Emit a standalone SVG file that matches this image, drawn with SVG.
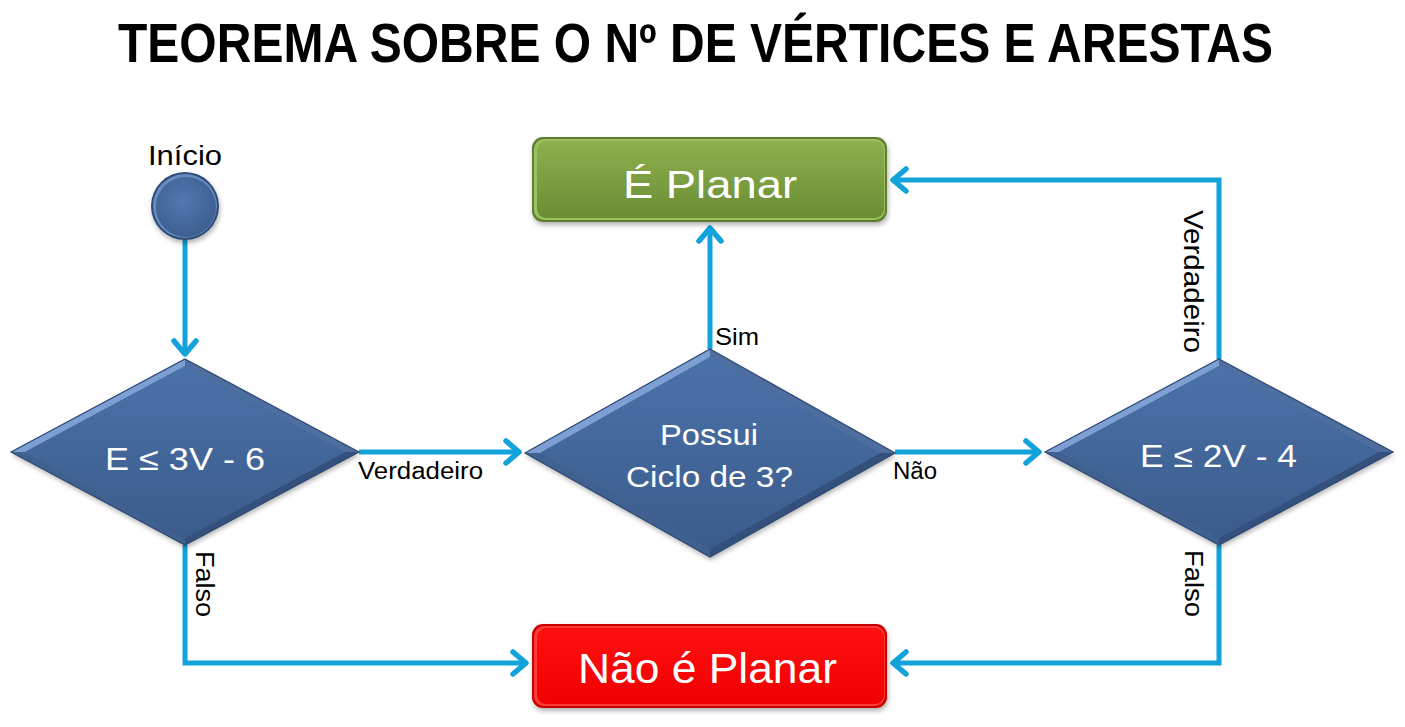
<svg xmlns="http://www.w3.org/2000/svg" width="1405" height="727" viewBox="0 0 1405 727">
<defs>
<style>
.t{font-family:"Liberation Sans",Arial,sans-serif;}
.lbl{font-family:"Liberation Sans",Arial,sans-serif;fill:#000;}
.wt{font-family:"Liberation Sans",Arial,sans-serif;fill:#fff;}
.conn{fill:none;stroke:#12a3da;stroke-width:5;stroke-linejoin:miter;}
.btl{fill:#7d9fd3;}
.btr{fill:#4d6e9f;}
.bbr{fill:#34507c;}
.bbl{fill:#40608f;}
.dedge{fill:none;stroke:#2f4a74;stroke-width:1.2;}
</style>
<linearGradient id="gd" x1="0" y1="0" x2="0" y2="1">
<stop offset="0" stop-color="#4b72a9"/>
<stop offset="1" stop-color="#3b5b8b"/>
</linearGradient>
<linearGradient id="gg" x1="0" y1="0" x2="0" y2="1">
<stop offset="0" stop-color="#8db04e"/>
<stop offset="1" stop-color="#6a8d34"/>
</linearGradient>
<linearGradient id="gr" x1="0" y1="0" x2="0" y2="1">
<stop offset="0" stop-color="#ff1010"/>
<stop offset="1" stop-color="#f00000"/>
</linearGradient>
<radialGradient id="gc" cx="0.45" cy="0.4" r="0.6">
<stop offset="0" stop-color="#5279b1"/>
<stop offset="1" stop-color="#3d5e90"/>
</radialGradient>
<filter id="sh" x="-10%" y="-10%" width="120%" height="130%">
<feDropShadow dx="1" dy="3" stdDeviation="2.5" flood-color="#000" flood-opacity="0.3"/>
</filter>
<marker id="ar" markerUnits="userSpaceOnUse" markerWidth="30" markerHeight="30" viewBox="-20 -15 30 30" refX="0" refY="0" orient="auto">
<path d="M -13 -11 L 0 0 L -13 11" fill="none" stroke="#12a3da" stroke-width="5.5" stroke-linecap="round" stroke-linejoin="round"/>
</marker>
</defs>
<rect width="1405" height="727" fill="#fff"/>

<text class="t" x="118" y="62" font-size="55" font-weight="bold" textLength="1155" lengthAdjust="spacingAndGlyphs" fill="#000">TEOREMA SOBRE O Nº DE VÉRTICES E ARESTAS</text>

<g id="connectors">
<path class="conn" d="M185 240 L185 354" marker-end="url(#ar)"/>
<path class="conn" d="M359 452 L519 452" marker-end="url(#ar)"/>
<path class="conn" d="M895 452 L1039 452" marker-end="url(#ar)"/>
<path class="conn" d="M710 349 L710 228" marker-end="url(#ar)"/>
<path class="conn" d="M1219 359 L1219 180 L893 180" marker-end="url(#ar)"/>
<path class="conn" d="M185 545 L185 663 L526 663" marker-end="url(#ar)"/>
<path class="conn" d="M1219 545 L1219 663 L893 663" marker-end="url(#ar)"/>
<text class="lbl" x="358" y="479" font-size="23" textLength="125" lengthAdjust="spacingAndGlyphs">Verdadeiro</text>
<text class="lbl" x="893" y="479" font-size="23" textLength="44" lengthAdjust="spacingAndGlyphs">Não</text>
<text class="lbl" x="715" y="345" font-size="24" textLength="44" lengthAdjust="spacingAndGlyphs">Sim</text>
<text class="lbl" transform="translate(1184,210) rotate(90)" font-size="27" textLength="143" lengthAdjust="spacingAndGlyphs">Verdadeiro</text>
<text class="lbl" transform="translate(196,551) rotate(90)" font-size="26" textLength="66" lengthAdjust="spacingAndGlyphs">Falso</text>
<text class="lbl" transform="translate(1185,550) rotate(90)" font-size="26" textLength="67" lengthAdjust="spacingAndGlyphs">Falso</text>
</g>

<g id="inicio">
<text class="lbl" x="148" y="165" font-size="27" textLength="74" lengthAdjust="spacingAndGlyphs">Início</text>
<circle cx="185" cy="206" r="34" fill="#2f4b76" filter="url(#sh)"/>
<circle cx="185" cy="206" r="32" fill="#6689bf"/>
<circle cx="186" cy="207" r="30" fill="url(#gc)"/>
</g>

<g id="d1">
<polygon points="185,359 359,452 185,545 11,452" fill="url(#gd)" filter="url(#sh)"/>
<polygon class="btl" points="11,452 185,359 185,366 25,452"/>
<polygon class="btr" points="185,359 359,452 345,452 185,366"/>
<polygon class="bbr" points="359,452 185,545 185,538 345,452"/>
<polygon class="bbl" points="185,545 11,452 25,452 185,538"/>
<polygon points="185,366 345,452 185,538 25,452" fill="url(#gd)"/>
<polygon class="dedge" points="185,359 359,452 185,545 11,452"/>
<text class="wt" x="105" y="470" font-size="32" textLength="160" lengthAdjust="spacingAndGlyphs">E ≤ 3V - 6</text>
</g>

<g id="d2">
<polygon points="710,349 895,453 710,557 525,453" fill="url(#gd)" filter="url(#sh)"/>
<polygon class="btl" points="525,453 710,349 710,357 540,453"/>
<polygon class="btr" points="710,349 895,453 880,453 710,357"/>
<polygon class="bbr" points="895,453 710,557 710,549 880,453"/>
<polygon class="bbl" points="710,557 525,453 540,453 710,549"/>
<polygon points="710,357 880,453 710,549 540,453" fill="url(#gd)"/>
<polygon class="dedge" points="710,349 895,453 710,557 525,453"/>
<text class="wt" x="660" y="445" font-size="29" textLength="98" lengthAdjust="spacingAndGlyphs">Possui</text>
<text class="wt" x="626" y="487" font-size="29" textLength="167" lengthAdjust="spacingAndGlyphs">Ciclo de 3?</text>
</g>

<g id="d3">
<polygon points="1219,359 1393,452 1219,545 1045,452" fill="url(#gd)" filter="url(#sh)"/>
<polygon class="btl" points="1045,452 1219,359 1219,366 1059,452"/>
<polygon class="btr" points="1219,359 1393,452 1379,452 1219,366"/>
<polygon class="bbr" points="1393,452 1219,545 1219,538 1379,452"/>
<polygon class="bbl" points="1219,545 1045,452 1059,452 1219,538"/>
<polygon points="1219,366 1379,452 1219,538 1059,452" fill="url(#gd)"/>
<polygon class="dedge" points="1219,359 1393,452 1219,545 1045,452"/>
<text class="wt" x="1140" y="467" font-size="32" textLength="157" lengthAdjust="spacingAndGlyphs">E ≤ 2V - 4</text>
</g>

<g id="planar">
<rect x="532" y="137" width="355" height="85" rx="11" fill="#5f7f2e" filter="url(#sh)"/>
<rect x="534" y="139" width="351" height="81" rx="10" fill="#9dbf5f"/>
<rect x="537" y="141" width="347" height="77" rx="9" fill="url(#gg)"/>
<text class="wt" x="623" y="198" font-size="38" textLength="174" lengthAdjust="spacingAndGlyphs">É Planar</text>
</g>

<g id="naoplanar">
<rect x="532" y="624" width="355" height="84" rx="11" fill="#c80000" filter="url(#sh)"/>
<rect x="534" y="626" width="351" height="80" rx="10" fill="#ff3a3a"/>
<rect x="537" y="628" width="347" height="76" rx="9" fill="url(#gr)"/>
<text class="wt" x="578" y="683" font-size="43" textLength="259" lengthAdjust="spacingAndGlyphs">Não é Planar</text>
</g>
</svg>
